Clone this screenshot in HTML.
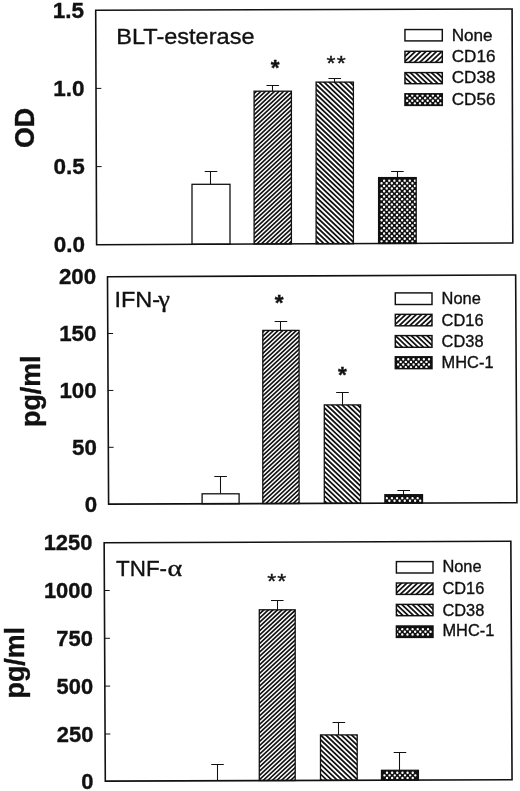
<!DOCTYPE html>
<html lang="en"><head><meta charset="utf-8"><title>Figure</title>
<style>
html,body{margin:0;padding:0;background:#fff;}
body{width:520px;height:791px;overflow:hidden;}
svg{display:block;}
text{font-family:"Liberation Sans",Arial,Helvetica,sans-serif;fill:#111;stroke:#111;stroke-width:0.35px;}
.tick{font-weight:bold;text-anchor:end;}
.yl{font-weight:bold;font-size:26.8px;text-anchor:middle;}
.sym{font-family:"Liberation Serif","DejaVu Serif",serif;}
</style></head><body>
<svg width="520" height="791" viewBox="0 0 520 791">
<rect width="520" height="791" fill="#fff"/>

<g>
<path d="M210.5 184.3V171.5M204.7 171.5H217.3" stroke="#111" stroke-width="1.05" fill="none"/>
<rect x="192" y="184.3" width="38" height="59.93" fill="#fff" stroke="#111" stroke-width="1.3"/>
<path d="M272.5 91.2V85.5M266.45 85.5H279.05" stroke="#111" stroke-width="1.05" fill="none"/>
<clipPath id="c1"><rect x="254.1" y="91.2" width="37.3" height="152.78"/></clipPath><rect x="254.1" y="91.2" width="37.3" height="152.78" fill="#fff"/><path clip-path="url(#c1)" d="M248.47 90.2L82.76 244.98M253.02 90.2L87.31 244.98M257.57 90.2L91.86 244.98M262.12 90.2L96.41 244.98M266.67 90.2L100.96 244.98M271.22 90.2L105.51 244.98M275.77 90.2L110.06 244.98M280.32 90.2L114.61 244.98M284.87 90.2L119.16 244.98M289.42 90.2L123.71 244.98M293.97 90.2L128.26 244.98M298.52 90.2L132.81 244.98M303.07 90.2L137.36 244.98M307.62 90.2L141.91 244.98M312.17 90.2L146.46 244.98M316.72 90.2L151.01 244.98M321.27 90.2L155.56 244.98M325.82 90.2L160.11 244.98M330.37 90.2L164.66 244.98M334.92 90.2L169.21 244.98M339.47 90.2L173.76 244.98M344.02 90.2L178.31 244.98M348.57 90.2L182.86 244.98M353.12 90.2L187.41 244.98M357.67 90.2L191.96 244.98M362.22 90.2L196.51 244.98M366.77 90.2L201.06 244.98M371.32 90.2L205.61 244.98M375.87 90.2L210.16 244.98M380.42 90.2L214.71 244.98M384.97 90.2L219.26 244.98M389.52 90.2L223.81 244.98M394.07 90.2L228.36 244.98M398.62 90.2L232.91 244.98M403.17 90.2L237.46 244.98M407.72 90.2L242.01 244.98M412.27 90.2L246.56 244.98M416.82 90.2L251.11 244.98M421.37 90.2L255.66 244.98M425.92 90.2L260.21 244.98M430.47 90.2L264.76 244.98M435.02 90.2L269.31 244.98M439.57 90.2L273.86 244.98M444.12 90.2L278.41 244.98M448.67 90.2L282.96 244.98M453.22 90.2L287.51 244.98M457.77 90.2L292.06 244.98M462.32 90.2L296.61 244.98" stroke="#111" stroke-width="1.65" fill="none"/><rect x="254.1" y="91.2" width="37.3" height="152.78" fill="none" stroke="#111" stroke-width="1.3"/>
<path d="M334.5 82.1V78.5M328.45 78.5H341.05" stroke="#111" stroke-width="1.05" fill="none"/>
<clipPath id="c2"><rect x="316.1" y="82.1" width="37.3" height="161.63"/></clipPath><rect x="316.1" y="82.1" width="37.3" height="161.63" fill="#fff"/><path clip-path="url(#c2)" d="M136.89 81.1L309.54 244.73M142.06 81.1L314.71 244.73M147.23 81.1L319.88 244.73M152.4 81.1L325.05 244.73M157.57 81.1L330.22 244.73M162.74 81.1L335.39 244.73M167.91 81.1L340.56 244.73M173.08 81.1L345.73 244.73M178.25 81.1L350.9 244.73M183.42 81.1L356.07 244.73M188.59 81.1L361.24 244.73M193.76 81.1L366.41 244.73M198.93 81.1L371.58 244.73M204.1 81.1L376.75 244.73M209.27 81.1L381.92 244.73M214.44 81.1L387.09 244.73M219.61 81.1L392.26 244.73M224.78 81.1L397.43 244.73M229.95 81.1L402.6 244.73M235.12 81.1L407.77 244.73M240.29 81.1L412.94 244.73M245.46 81.1L418.11 244.73M250.63 81.1L423.28 244.73M255.8 81.1L428.45 244.73M260.97 81.1L433.62 244.73M266.14 81.1L438.79 244.73M271.31 81.1L443.96 244.73M276.48 81.1L449.13 244.73M281.65 81.1L454.3 244.73M286.82 81.1L459.47 244.73M291.99 81.1L464.64 244.73M297.16 81.1L469.81 244.73M302.33 81.1L474.98 244.73M307.5 81.1L480.15 244.73M312.67 81.1L485.32 244.73M317.84 81.1L490.49 244.73M323.01 81.1L495.66 244.73M328.18 81.1L500.83 244.73M333.35 81.1L506 244.73M338.52 81.1L511.17 244.73M343.69 81.1L516.34 244.73M348.86 81.1L521.51 244.73M354.03 81.1L526.68 244.73M359.2 81.1L531.85 244.73" stroke="#111" stroke-width="1.8" fill="none"/><rect x="316.1" y="82.1" width="37.3" height="161.63" fill="none" stroke="#111" stroke-width="1.3"/>
<path d="M397.5 177.6V171.5M391.1 171.5H403.7" stroke="#111" stroke-width="1.05" fill="none"/>
<clipPath id="c3"><rect x="378.6" y="177.6" width="37.6" height="65.87"/></clipPath><rect x="378.6" y="177.6" width="37.6" height="65.87" fill="#111"/><path clip-path="url(#c3)" d="M382.9 180.65a1.2 1.2 0 1 0 2.4 0a1.2 1.2 0 1 0 -2.4 0zM388.05 180.65a1.2 1.2 0 1 0 2.4 0a1.2 1.2 0 1 0 -2.4 0zM393.2 180.65a1.2 1.2 0 1 0 2.4 0a1.2 1.2 0 1 0 -2.4 0zM398.35 180.65a1.2 1.2 0 1 0 2.4 0a1.2 1.2 0 1 0 -2.4 0zM403.5 180.65a1.2 1.2 0 1 0 2.4 0a1.2 1.2 0 1 0 -2.4 0zM408.65 180.65a1.2 1.2 0 1 0 2.4 0a1.2 1.2 0 1 0 -2.4 0zM413.8 180.65a1.2 1.2 0 1 0 2.4 0a1.2 1.2 0 1 0 -2.4 0zM380.33 183.29a1.2 1.2 0 1 0 2.4 0a1.2 1.2 0 1 0 -2.4 0zM385.48 183.29a1.2 1.2 0 1 0 2.4 0a1.2 1.2 0 1 0 -2.4 0zM390.62 183.29a1.2 1.2 0 1 0 2.4 0a1.2 1.2 0 1 0 -2.4 0zM395.78 183.29a1.2 1.2 0 1 0 2.4 0a1.2 1.2 0 1 0 -2.4 0zM400.93 183.29a1.2 1.2 0 1 0 2.4 0a1.2 1.2 0 1 0 -2.4 0zM406.08 183.29a1.2 1.2 0 1 0 2.4 0a1.2 1.2 0 1 0 -2.4 0zM411.23 183.29a1.2 1.2 0 1 0 2.4 0a1.2 1.2 0 1 0 -2.4 0zM382.9 185.93a1.2 1.2 0 1 0 2.4 0a1.2 1.2 0 1 0 -2.4 0zM388.05 185.93a1.2 1.2 0 1 0 2.4 0a1.2 1.2 0 1 0 -2.4 0zM393.2 185.93a1.2 1.2 0 1 0 2.4 0a1.2 1.2 0 1 0 -2.4 0zM398.35 185.93a1.2 1.2 0 1 0 2.4 0a1.2 1.2 0 1 0 -2.4 0zM403.5 185.93a1.2 1.2 0 1 0 2.4 0a1.2 1.2 0 1 0 -2.4 0zM408.65 185.93a1.2 1.2 0 1 0 2.4 0a1.2 1.2 0 1 0 -2.4 0zM413.8 185.93a1.2 1.2 0 1 0 2.4 0a1.2 1.2 0 1 0 -2.4 0zM380.33 188.57a1.2 1.2 0 1 0 2.4 0a1.2 1.2 0 1 0 -2.4 0zM385.48 188.57a1.2 1.2 0 1 0 2.4 0a1.2 1.2 0 1 0 -2.4 0zM390.62 188.57a1.2 1.2 0 1 0 2.4 0a1.2 1.2 0 1 0 -2.4 0zM395.78 188.57a1.2 1.2 0 1 0 2.4 0a1.2 1.2 0 1 0 -2.4 0zM400.93 188.57a1.2 1.2 0 1 0 2.4 0a1.2 1.2 0 1 0 -2.4 0zM406.08 188.57a1.2 1.2 0 1 0 2.4 0a1.2 1.2 0 1 0 -2.4 0zM411.23 188.57a1.2 1.2 0 1 0 2.4 0a1.2 1.2 0 1 0 -2.4 0zM382.9 191.21a1.2 1.2 0 1 0 2.4 0a1.2 1.2 0 1 0 -2.4 0zM388.05 191.21a1.2 1.2 0 1 0 2.4 0a1.2 1.2 0 1 0 -2.4 0zM393.2 191.21a1.2 1.2 0 1 0 2.4 0a1.2 1.2 0 1 0 -2.4 0zM398.35 191.21a1.2 1.2 0 1 0 2.4 0a1.2 1.2 0 1 0 -2.4 0zM403.5 191.21a1.2 1.2 0 1 0 2.4 0a1.2 1.2 0 1 0 -2.4 0zM408.65 191.21a1.2 1.2 0 1 0 2.4 0a1.2 1.2 0 1 0 -2.4 0zM413.8 191.21a1.2 1.2 0 1 0 2.4 0a1.2 1.2 0 1 0 -2.4 0zM380.33 193.85a1.2 1.2 0 1 0 2.4 0a1.2 1.2 0 1 0 -2.4 0zM385.48 193.85a1.2 1.2 0 1 0 2.4 0a1.2 1.2 0 1 0 -2.4 0zM390.62 193.85a1.2 1.2 0 1 0 2.4 0a1.2 1.2 0 1 0 -2.4 0zM395.78 193.85a1.2 1.2 0 1 0 2.4 0a1.2 1.2 0 1 0 -2.4 0zM400.93 193.85a1.2 1.2 0 1 0 2.4 0a1.2 1.2 0 1 0 -2.4 0zM406.08 193.85a1.2 1.2 0 1 0 2.4 0a1.2 1.2 0 1 0 -2.4 0zM411.23 193.85a1.2 1.2 0 1 0 2.4 0a1.2 1.2 0 1 0 -2.4 0zM382.9 196.49a1.2 1.2 0 1 0 2.4 0a1.2 1.2 0 1 0 -2.4 0zM388.05 196.49a1.2 1.2 0 1 0 2.4 0a1.2 1.2 0 1 0 -2.4 0zM393.2 196.49a1.2 1.2 0 1 0 2.4 0a1.2 1.2 0 1 0 -2.4 0zM398.35 196.49a1.2 1.2 0 1 0 2.4 0a1.2 1.2 0 1 0 -2.4 0zM403.5 196.49a1.2 1.2 0 1 0 2.4 0a1.2 1.2 0 1 0 -2.4 0zM408.65 196.49a1.2 1.2 0 1 0 2.4 0a1.2 1.2 0 1 0 -2.4 0zM413.8 196.49a1.2 1.2 0 1 0 2.4 0a1.2 1.2 0 1 0 -2.4 0zM380.33 199.13a1.2 1.2 0 1 0 2.4 0a1.2 1.2 0 1 0 -2.4 0zM385.48 199.13a1.2 1.2 0 1 0 2.4 0a1.2 1.2 0 1 0 -2.4 0zM390.62 199.13a1.2 1.2 0 1 0 2.4 0a1.2 1.2 0 1 0 -2.4 0zM395.78 199.13a1.2 1.2 0 1 0 2.4 0a1.2 1.2 0 1 0 -2.4 0zM400.93 199.13a1.2 1.2 0 1 0 2.4 0a1.2 1.2 0 1 0 -2.4 0zM406.08 199.13a1.2 1.2 0 1 0 2.4 0a1.2 1.2 0 1 0 -2.4 0zM411.23 199.13a1.2 1.2 0 1 0 2.4 0a1.2 1.2 0 1 0 -2.4 0zM382.9 201.77a1.2 1.2 0 1 0 2.4 0a1.2 1.2 0 1 0 -2.4 0zM388.05 201.77a1.2 1.2 0 1 0 2.4 0a1.2 1.2 0 1 0 -2.4 0zM393.2 201.77a1.2 1.2 0 1 0 2.4 0a1.2 1.2 0 1 0 -2.4 0zM398.35 201.77a1.2 1.2 0 1 0 2.4 0a1.2 1.2 0 1 0 -2.4 0zM403.5 201.77a1.2 1.2 0 1 0 2.4 0a1.2 1.2 0 1 0 -2.4 0zM408.65 201.77a1.2 1.2 0 1 0 2.4 0a1.2 1.2 0 1 0 -2.4 0zM413.8 201.77a1.2 1.2 0 1 0 2.4 0a1.2 1.2 0 1 0 -2.4 0zM380.33 204.41a1.2 1.2 0 1 0 2.4 0a1.2 1.2 0 1 0 -2.4 0zM385.48 204.41a1.2 1.2 0 1 0 2.4 0a1.2 1.2 0 1 0 -2.4 0zM390.62 204.41a1.2 1.2 0 1 0 2.4 0a1.2 1.2 0 1 0 -2.4 0zM395.78 204.41a1.2 1.2 0 1 0 2.4 0a1.2 1.2 0 1 0 -2.4 0zM400.93 204.41a1.2 1.2 0 1 0 2.4 0a1.2 1.2 0 1 0 -2.4 0zM406.08 204.41a1.2 1.2 0 1 0 2.4 0a1.2 1.2 0 1 0 -2.4 0zM411.23 204.41a1.2 1.2 0 1 0 2.4 0a1.2 1.2 0 1 0 -2.4 0zM382.9 207.05a1.2 1.2 0 1 0 2.4 0a1.2 1.2 0 1 0 -2.4 0zM388.05 207.05a1.2 1.2 0 1 0 2.4 0a1.2 1.2 0 1 0 -2.4 0zM393.2 207.05a1.2 1.2 0 1 0 2.4 0a1.2 1.2 0 1 0 -2.4 0zM398.35 207.05a1.2 1.2 0 1 0 2.4 0a1.2 1.2 0 1 0 -2.4 0zM403.5 207.05a1.2 1.2 0 1 0 2.4 0a1.2 1.2 0 1 0 -2.4 0zM408.65 207.05a1.2 1.2 0 1 0 2.4 0a1.2 1.2 0 1 0 -2.4 0zM413.8 207.05a1.2 1.2 0 1 0 2.4 0a1.2 1.2 0 1 0 -2.4 0zM380.33 209.69a1.2 1.2 0 1 0 2.4 0a1.2 1.2 0 1 0 -2.4 0zM385.48 209.69a1.2 1.2 0 1 0 2.4 0a1.2 1.2 0 1 0 -2.4 0zM390.62 209.69a1.2 1.2 0 1 0 2.4 0a1.2 1.2 0 1 0 -2.4 0zM395.78 209.69a1.2 1.2 0 1 0 2.4 0a1.2 1.2 0 1 0 -2.4 0zM400.93 209.69a1.2 1.2 0 1 0 2.4 0a1.2 1.2 0 1 0 -2.4 0zM406.08 209.69a1.2 1.2 0 1 0 2.4 0a1.2 1.2 0 1 0 -2.4 0zM411.23 209.69a1.2 1.2 0 1 0 2.4 0a1.2 1.2 0 1 0 -2.4 0zM382.9 212.33a1.2 1.2 0 1 0 2.4 0a1.2 1.2 0 1 0 -2.4 0zM388.05 212.33a1.2 1.2 0 1 0 2.4 0a1.2 1.2 0 1 0 -2.4 0zM393.2 212.33a1.2 1.2 0 1 0 2.4 0a1.2 1.2 0 1 0 -2.4 0zM398.35 212.33a1.2 1.2 0 1 0 2.4 0a1.2 1.2 0 1 0 -2.4 0zM403.5 212.33a1.2 1.2 0 1 0 2.4 0a1.2 1.2 0 1 0 -2.4 0zM408.65 212.33a1.2 1.2 0 1 0 2.4 0a1.2 1.2 0 1 0 -2.4 0zM413.8 212.33a1.2 1.2 0 1 0 2.4 0a1.2 1.2 0 1 0 -2.4 0zM380.33 214.97a1.2 1.2 0 1 0 2.4 0a1.2 1.2 0 1 0 -2.4 0zM385.48 214.97a1.2 1.2 0 1 0 2.4 0a1.2 1.2 0 1 0 -2.4 0zM390.62 214.97a1.2 1.2 0 1 0 2.4 0a1.2 1.2 0 1 0 -2.4 0zM395.78 214.97a1.2 1.2 0 1 0 2.4 0a1.2 1.2 0 1 0 -2.4 0zM400.93 214.97a1.2 1.2 0 1 0 2.4 0a1.2 1.2 0 1 0 -2.4 0zM406.08 214.97a1.2 1.2 0 1 0 2.4 0a1.2 1.2 0 1 0 -2.4 0zM411.23 214.97a1.2 1.2 0 1 0 2.4 0a1.2 1.2 0 1 0 -2.4 0zM382.9 217.61a1.2 1.2 0 1 0 2.4 0a1.2 1.2 0 1 0 -2.4 0zM388.05 217.61a1.2 1.2 0 1 0 2.4 0a1.2 1.2 0 1 0 -2.4 0zM393.2 217.61a1.2 1.2 0 1 0 2.4 0a1.2 1.2 0 1 0 -2.4 0zM398.35 217.61a1.2 1.2 0 1 0 2.4 0a1.2 1.2 0 1 0 -2.4 0zM403.5 217.61a1.2 1.2 0 1 0 2.4 0a1.2 1.2 0 1 0 -2.4 0zM408.65 217.61a1.2 1.2 0 1 0 2.4 0a1.2 1.2 0 1 0 -2.4 0zM413.8 217.61a1.2 1.2 0 1 0 2.4 0a1.2 1.2 0 1 0 -2.4 0zM380.33 220.25a1.2 1.2 0 1 0 2.4 0a1.2 1.2 0 1 0 -2.4 0zM385.48 220.25a1.2 1.2 0 1 0 2.4 0a1.2 1.2 0 1 0 -2.4 0zM390.62 220.25a1.2 1.2 0 1 0 2.4 0a1.2 1.2 0 1 0 -2.4 0zM395.78 220.25a1.2 1.2 0 1 0 2.4 0a1.2 1.2 0 1 0 -2.4 0zM400.93 220.25a1.2 1.2 0 1 0 2.4 0a1.2 1.2 0 1 0 -2.4 0zM406.08 220.25a1.2 1.2 0 1 0 2.4 0a1.2 1.2 0 1 0 -2.4 0zM411.23 220.25a1.2 1.2 0 1 0 2.4 0a1.2 1.2 0 1 0 -2.4 0zM382.9 222.89a1.2 1.2 0 1 0 2.4 0a1.2 1.2 0 1 0 -2.4 0zM388.05 222.89a1.2 1.2 0 1 0 2.4 0a1.2 1.2 0 1 0 -2.4 0zM393.2 222.89a1.2 1.2 0 1 0 2.4 0a1.2 1.2 0 1 0 -2.4 0zM398.35 222.89a1.2 1.2 0 1 0 2.4 0a1.2 1.2 0 1 0 -2.4 0zM403.5 222.89a1.2 1.2 0 1 0 2.4 0a1.2 1.2 0 1 0 -2.4 0zM408.65 222.89a1.2 1.2 0 1 0 2.4 0a1.2 1.2 0 1 0 -2.4 0zM413.8 222.89a1.2 1.2 0 1 0 2.4 0a1.2 1.2 0 1 0 -2.4 0zM380.33 225.53a1.2 1.2 0 1 0 2.4 0a1.2 1.2 0 1 0 -2.4 0zM385.48 225.53a1.2 1.2 0 1 0 2.4 0a1.2 1.2 0 1 0 -2.4 0zM390.62 225.53a1.2 1.2 0 1 0 2.4 0a1.2 1.2 0 1 0 -2.4 0zM395.78 225.53a1.2 1.2 0 1 0 2.4 0a1.2 1.2 0 1 0 -2.4 0zM400.93 225.53a1.2 1.2 0 1 0 2.4 0a1.2 1.2 0 1 0 -2.4 0zM406.08 225.53a1.2 1.2 0 1 0 2.4 0a1.2 1.2 0 1 0 -2.4 0zM411.23 225.53a1.2 1.2 0 1 0 2.4 0a1.2 1.2 0 1 0 -2.4 0zM382.9 228.17a1.2 1.2 0 1 0 2.4 0a1.2 1.2 0 1 0 -2.4 0zM388.05 228.17a1.2 1.2 0 1 0 2.4 0a1.2 1.2 0 1 0 -2.4 0zM393.2 228.17a1.2 1.2 0 1 0 2.4 0a1.2 1.2 0 1 0 -2.4 0zM398.35 228.17a1.2 1.2 0 1 0 2.4 0a1.2 1.2 0 1 0 -2.4 0zM403.5 228.17a1.2 1.2 0 1 0 2.4 0a1.2 1.2 0 1 0 -2.4 0zM408.65 228.17a1.2 1.2 0 1 0 2.4 0a1.2 1.2 0 1 0 -2.4 0zM413.8 228.17a1.2 1.2 0 1 0 2.4 0a1.2 1.2 0 1 0 -2.4 0zM380.33 230.81a1.2 1.2 0 1 0 2.4 0a1.2 1.2 0 1 0 -2.4 0zM385.48 230.81a1.2 1.2 0 1 0 2.4 0a1.2 1.2 0 1 0 -2.4 0zM390.62 230.81a1.2 1.2 0 1 0 2.4 0a1.2 1.2 0 1 0 -2.4 0zM395.78 230.81a1.2 1.2 0 1 0 2.4 0a1.2 1.2 0 1 0 -2.4 0zM400.93 230.81a1.2 1.2 0 1 0 2.4 0a1.2 1.2 0 1 0 -2.4 0zM406.08 230.81a1.2 1.2 0 1 0 2.4 0a1.2 1.2 0 1 0 -2.4 0zM411.23 230.81a1.2 1.2 0 1 0 2.4 0a1.2 1.2 0 1 0 -2.4 0zM382.9 233.45a1.2 1.2 0 1 0 2.4 0a1.2 1.2 0 1 0 -2.4 0zM388.05 233.45a1.2 1.2 0 1 0 2.4 0a1.2 1.2 0 1 0 -2.4 0zM393.2 233.45a1.2 1.2 0 1 0 2.4 0a1.2 1.2 0 1 0 -2.4 0zM398.35 233.45a1.2 1.2 0 1 0 2.4 0a1.2 1.2 0 1 0 -2.4 0zM403.5 233.45a1.2 1.2 0 1 0 2.4 0a1.2 1.2 0 1 0 -2.4 0zM408.65 233.45a1.2 1.2 0 1 0 2.4 0a1.2 1.2 0 1 0 -2.4 0zM413.8 233.45a1.2 1.2 0 1 0 2.4 0a1.2 1.2 0 1 0 -2.4 0zM380.33 236.09a1.2 1.2 0 1 0 2.4 0a1.2 1.2 0 1 0 -2.4 0zM385.48 236.09a1.2 1.2 0 1 0 2.4 0a1.2 1.2 0 1 0 -2.4 0zM390.62 236.09a1.2 1.2 0 1 0 2.4 0a1.2 1.2 0 1 0 -2.4 0zM395.78 236.09a1.2 1.2 0 1 0 2.4 0a1.2 1.2 0 1 0 -2.4 0zM400.93 236.09a1.2 1.2 0 1 0 2.4 0a1.2 1.2 0 1 0 -2.4 0zM406.08 236.09a1.2 1.2 0 1 0 2.4 0a1.2 1.2 0 1 0 -2.4 0zM411.23 236.09a1.2 1.2 0 1 0 2.4 0a1.2 1.2 0 1 0 -2.4 0zM382.9 238.73a1.2 1.2 0 1 0 2.4 0a1.2 1.2 0 1 0 -2.4 0zM388.05 238.73a1.2 1.2 0 1 0 2.4 0a1.2 1.2 0 1 0 -2.4 0zM393.2 238.73a1.2 1.2 0 1 0 2.4 0a1.2 1.2 0 1 0 -2.4 0zM398.35 238.73a1.2 1.2 0 1 0 2.4 0a1.2 1.2 0 1 0 -2.4 0zM403.5 238.73a1.2 1.2 0 1 0 2.4 0a1.2 1.2 0 1 0 -2.4 0zM408.65 238.73a1.2 1.2 0 1 0 2.4 0a1.2 1.2 0 1 0 -2.4 0zM413.8 238.73a1.2 1.2 0 1 0 2.4 0a1.2 1.2 0 1 0 -2.4 0zM380.33 241.37a1.2 1.2 0 1 0 2.4 0a1.2 1.2 0 1 0 -2.4 0zM385.48 241.37a1.2 1.2 0 1 0 2.4 0a1.2 1.2 0 1 0 -2.4 0zM390.62 241.37a1.2 1.2 0 1 0 2.4 0a1.2 1.2 0 1 0 -2.4 0zM395.78 241.37a1.2 1.2 0 1 0 2.4 0a1.2 1.2 0 1 0 -2.4 0zM400.93 241.37a1.2 1.2 0 1 0 2.4 0a1.2 1.2 0 1 0 -2.4 0zM406.08 241.37a1.2 1.2 0 1 0 2.4 0a1.2 1.2 0 1 0 -2.4 0zM411.23 241.37a1.2 1.2 0 1 0 2.4 0a1.2 1.2 0 1 0 -2.4 0z" fill="#fff"/><rect x="378.6" y="177.6" width="37.6" height="65.87" fill="none" stroke="#111" stroke-width="1.3"/>
<polygon points="95.7,10.2 512.1,9 512.8,243 96.6,244.7" fill="none" stroke="#111" stroke-width="1.6" stroke-linejoin="miter"/>
<path d="M96 88.4h5.3M96.3 166.6h5.3" stroke="#111" stroke-width="1.0" fill="none"/>
<text class="tick" x="84.15" y="17.5" font-size="22.5">1.5</text>
<text class="tick" x="84.45" y="95.7" font-size="22.5">1.0</text>
<text class="tick" x="84.75" y="173.9" font-size="22.5">0.5</text>
<text class="tick" x="85.05" y="252.1" font-size="22.5">0.0</text>
<text class="yl" transform="translate(34.4 127.9) rotate(-90)" x="0" y="0">OD</text>
<text transform="translate(116.3 44) scale(1.046 1)" font-size="22.5">BLT-esterase</text>
<text transform="translate(275.15 75.25) scale(1.0 1)" font-size="22.6" font-weight="bold" text-anchor="middle" stroke-width="0.5">*</text>
<text transform="translate(331.05 69.78) scale(1.1 1)" font-size="21" font-weight="normal" text-anchor="middle" stroke-width="0.5">*</text>
<text transform="translate(341.3 69.78) scale(1.1 1)" font-size="21" font-weight="normal" text-anchor="middle" stroke-width="0.5">*</text>
<rect x="404.95" y="29.55" width="37.35" height="11.35" fill="#fff" stroke="#111" stroke-width="1.45"/>
<text x="451.7" y="40.7" font-size="17.1">None</text>
<clipPath id="c4"><rect x="404.95" y="51.3" width="37.35" height="11.1"/></clipPath><rect x="404.95" y="51.3" width="37.35" height="11.1" fill="#fff"/><path clip-path="url(#c4)" d="M400.71 50.3L386.82 63.4M406.01 50.3L392.12 63.4M411.31 50.3L397.42 63.4M416.61 50.3L402.72 63.4M421.91 50.3L408.02 63.4M427.21 50.3L413.32 63.4M432.51 50.3L418.62 63.4M437.81 50.3L423.92 63.4M443.11 50.3L429.22 63.4M448.41 50.3L434.52 63.4M453.71 50.3L439.82 63.4M459.01 50.3L445.12 63.4M464.31 50.3L450.42 63.4" stroke="#111" stroke-width="1.75" fill="none"/><rect x="404.95" y="51.3" width="37.35" height="11.1" fill="none" stroke="#111" stroke-width="1.45"/>
<text x="451.7" y="62" font-size="17.1">CD16</text>
<clipPath id="c5"><rect x="404.95" y="72.6" width="37.35" height="11.1"/></clipPath><rect x="404.95" y="72.6" width="37.35" height="11.1" fill="#fff"/><path clip-path="url(#c5)" d="M382.69 71.6L396.58 84.7M387.99 71.6L401.88 84.7M393.29 71.6L407.18 84.7M398.59 71.6L412.48 84.7M403.89 71.6L417.78 84.7M409.19 71.6L423.08 84.7M414.49 71.6L428.38 84.7M419.79 71.6L433.68 84.7M425.09 71.6L438.98 84.7M430.39 71.6L444.28 84.7M435.69 71.6L449.58 84.7M440.99 71.6L454.88 84.7M446.29 71.6L460.18 84.7M451.59 71.6L465.48 84.7" stroke="#111" stroke-width="1.75" fill="none"/><rect x="404.95" y="72.6" width="37.35" height="11.1" fill="none" stroke="#111" stroke-width="1.45"/>
<text x="451.7" y="83.3" font-size="17.1">CD38</text>
<clipPath id="c6"><rect x="404.95" y="93.8" width="37.35" height="11.6"/></clipPath><rect x="404.95" y="93.8" width="37.35" height="11.6" fill="#111"/><path clip-path="url(#c6)" d="M405.9 95.5a1.2 1.2 0 1 0 2.4 0a1.2 1.2 0 1 0 -2.4 0zM411.05 95.5a1.2 1.2 0 1 0 2.4 0a1.2 1.2 0 1 0 -2.4 0zM416.2 95.5a1.2 1.2 0 1 0 2.4 0a1.2 1.2 0 1 0 -2.4 0zM421.35 95.5a1.2 1.2 0 1 0 2.4 0a1.2 1.2 0 1 0 -2.4 0zM426.5 95.5a1.2 1.2 0 1 0 2.4 0a1.2 1.2 0 1 0 -2.4 0zM431.65 95.5a1.2 1.2 0 1 0 2.4 0a1.2 1.2 0 1 0 -2.4 0zM436.8 95.5a1.2 1.2 0 1 0 2.4 0a1.2 1.2 0 1 0 -2.4 0zM408.48 98.14a1.2 1.2 0 1 0 2.4 0a1.2 1.2 0 1 0 -2.4 0zM413.62 98.14a1.2 1.2 0 1 0 2.4 0a1.2 1.2 0 1 0 -2.4 0zM418.78 98.14a1.2 1.2 0 1 0 2.4 0a1.2 1.2 0 1 0 -2.4 0zM423.93 98.14a1.2 1.2 0 1 0 2.4 0a1.2 1.2 0 1 0 -2.4 0zM429.08 98.14a1.2 1.2 0 1 0 2.4 0a1.2 1.2 0 1 0 -2.4 0zM434.23 98.14a1.2 1.2 0 1 0 2.4 0a1.2 1.2 0 1 0 -2.4 0zM439.38 98.14a1.2 1.2 0 1 0 2.4 0a1.2 1.2 0 1 0 -2.4 0zM405.9 100.78a1.2 1.2 0 1 0 2.4 0a1.2 1.2 0 1 0 -2.4 0zM411.05 100.78a1.2 1.2 0 1 0 2.4 0a1.2 1.2 0 1 0 -2.4 0zM416.2 100.78a1.2 1.2 0 1 0 2.4 0a1.2 1.2 0 1 0 -2.4 0zM421.35 100.78a1.2 1.2 0 1 0 2.4 0a1.2 1.2 0 1 0 -2.4 0zM426.5 100.78a1.2 1.2 0 1 0 2.4 0a1.2 1.2 0 1 0 -2.4 0zM431.65 100.78a1.2 1.2 0 1 0 2.4 0a1.2 1.2 0 1 0 -2.4 0zM436.8 100.78a1.2 1.2 0 1 0 2.4 0a1.2 1.2 0 1 0 -2.4 0zM408.48 103.42a1.2 1.2 0 1 0 2.4 0a1.2 1.2 0 1 0 -2.4 0zM413.62 103.42a1.2 1.2 0 1 0 2.4 0a1.2 1.2 0 1 0 -2.4 0zM418.78 103.42a1.2 1.2 0 1 0 2.4 0a1.2 1.2 0 1 0 -2.4 0zM423.93 103.42a1.2 1.2 0 1 0 2.4 0a1.2 1.2 0 1 0 -2.4 0zM429.08 103.42a1.2 1.2 0 1 0 2.4 0a1.2 1.2 0 1 0 -2.4 0zM434.23 103.42a1.2 1.2 0 1 0 2.4 0a1.2 1.2 0 1 0 -2.4 0zM439.38 103.42a1.2 1.2 0 1 0 2.4 0a1.2 1.2 0 1 0 -2.4 0z" fill="#fff"/><rect x="404.95" y="93.8" width="37.35" height="11.6" fill="none" stroke="#111" stroke-width="1.45"/>
<text x="451.7" y="105" font-size="17.1">CD56</text>
</g>
<g>
<path d="M220.5 493.8V476.5M214.3 476.5H226.9" stroke="#111" stroke-width="1.05" fill="none"/>
<rect x="202.1" y="493.8" width="37" height="9.92" fill="#fff" stroke="#111" stroke-width="1.3"/>
<path d="M280.5 330.4V321.5M274.65 321.5H287.25" stroke="#111" stroke-width="1.05" fill="none"/>
<clipPath id="c7"><rect x="262.8" y="330.4" width="36.3" height="173.11"/></clipPath><rect x="262.8" y="330.4" width="36.3" height="173.11" fill="#fff"/><path clip-path="url(#c7)" d="M256.57 329.4L69.1 504.51M261.12 329.4L73.65 504.51M265.67 329.4L78.2 504.51M270.22 329.4L82.75 504.51M274.77 329.4L87.3 504.51M279.32 329.4L91.85 504.51M283.87 329.4L96.4 504.51M288.42 329.4L100.95 504.51M292.97 329.4L105.5 504.51M297.52 329.4L110.05 504.51M302.07 329.4L114.6 504.51M306.62 329.4L119.15 504.51M311.17 329.4L123.7 504.51M315.72 329.4L128.25 504.51M320.27 329.4L132.8 504.51M324.82 329.4L137.35 504.51M329.37 329.4L141.9 504.51M333.92 329.4L146.45 504.51M338.47 329.4L151 504.51M343.02 329.4L155.55 504.51M347.57 329.4L160.1 504.51M352.12 329.4L164.65 504.51M356.67 329.4L169.2 504.51M361.22 329.4L173.75 504.51M365.77 329.4L178.3 504.51M370.32 329.4L182.85 504.51M374.87 329.4L187.4 504.51M379.42 329.4L191.95 504.51M383.97 329.4L196.5 504.51M388.52 329.4L201.05 504.51M393.07 329.4L205.6 504.51M397.62 329.4L210.15 504.51M402.17 329.4L214.7 504.51M406.72 329.4L219.25 504.51M411.27 329.4L223.8 504.51M415.82 329.4L228.35 504.51M420.37 329.4L232.9 504.51M424.92 329.4L237.45 504.51M429.47 329.4L242 504.51M434.02 329.4L246.55 504.51M438.57 329.4L251.1 504.51M443.12 329.4L255.65 504.51M447.67 329.4L260.2 504.51M452.22 329.4L264.75 504.51M456.77 329.4L269.3 504.51M461.32 329.4L273.85 504.51M465.87 329.4L278.4 504.51M470.42 329.4L282.95 504.51M474.97 329.4L287.5 504.51M479.52 329.4L292.05 504.51M484.07 329.4L296.6 504.51M488.62 329.4L301.15 504.51M493.17 329.4L305.7 504.51" stroke="#111" stroke-width="1.65" fill="none"/><rect x="262.8" y="330.4" width="36.3" height="173.11" fill="none" stroke="#111" stroke-width="1.3"/>
<path d="M342.5 404.9V392.5M336.15 392.5H348.75" stroke="#111" stroke-width="1.05" fill="none"/>
<clipPath id="c8"><rect x="324.3" y="404.9" width="36.3" height="98.4"/></clipPath><rect x="324.3" y="404.9" width="36.3" height="98.4" fill="#fff"/><path clip-path="url(#c8)" d="M211.7 403.9L317.64 504.3M216.87 403.9L322.81 504.3M222.04 403.9L327.98 504.3M227.21 403.9L333.15 504.3M232.38 403.9L338.32 504.3M237.55 403.9L343.49 504.3M242.72 403.9L348.66 504.3M247.89 403.9L353.83 504.3M253.06 403.9L359 504.3M258.23 403.9L364.17 504.3M263.4 403.9L369.34 504.3M268.57 403.9L374.51 504.3M273.74 403.9L379.68 504.3M278.91 403.9L384.85 504.3M284.08 403.9L390.02 504.3M289.25 403.9L395.19 504.3M294.42 403.9L400.36 504.3M299.59 403.9L405.53 504.3M304.76 403.9L410.7 504.3M309.93 403.9L415.87 504.3M315.1 403.9L421.04 504.3M320.27 403.9L426.21 504.3M325.44 403.9L431.38 504.3M330.61 403.9L436.55 504.3M335.78 403.9L441.72 504.3M340.95 403.9L446.89 504.3M346.12 403.9L452.06 504.3M351.29 403.9L457.23 504.3M356.46 403.9L462.4 504.3M361.63 403.9L467.57 504.3M366.8 403.9L472.74 504.3" stroke="#111" stroke-width="1.8" fill="none"/><rect x="324.3" y="404.9" width="36.3" height="98.4" fill="none" stroke="#111" stroke-width="1.3"/>
<path d="M403.5 494.7V490.5M397.4 490.5H410" stroke="#111" stroke-width="1.05" fill="none"/>
<clipPath id="c9"><rect x="384.9" y="494.7" width="37.6" height="8.39"/></clipPath><rect x="384.9" y="494.7" width="37.6" height="8.39" fill="#111"/><path clip-path="url(#c9)" d="M385.58 498.16a1.2 1.2 0 1 0 2.4 0a1.2 1.2 0 1 0 -2.4 0zM390.73 498.16a1.2 1.2 0 1 0 2.4 0a1.2 1.2 0 1 0 -2.4 0zM395.88 498.16a1.2 1.2 0 1 0 2.4 0a1.2 1.2 0 1 0 -2.4 0zM401.03 498.16a1.2 1.2 0 1 0 2.4 0a1.2 1.2 0 1 0 -2.4 0zM406.18 498.16a1.2 1.2 0 1 0 2.4 0a1.2 1.2 0 1 0 -2.4 0zM411.33 498.16a1.2 1.2 0 1 0 2.4 0a1.2 1.2 0 1 0 -2.4 0zM416.48 498.16a1.2 1.2 0 1 0 2.4 0a1.2 1.2 0 1 0 -2.4 0zM388.15 500.8a1.2 1.2 0 1 0 2.4 0a1.2 1.2 0 1 0 -2.4 0zM393.3 500.8a1.2 1.2 0 1 0 2.4 0a1.2 1.2 0 1 0 -2.4 0zM398.45 500.8a1.2 1.2 0 1 0 2.4 0a1.2 1.2 0 1 0 -2.4 0zM403.6 500.8a1.2 1.2 0 1 0 2.4 0a1.2 1.2 0 1 0 -2.4 0zM408.75 500.8a1.2 1.2 0 1 0 2.4 0a1.2 1.2 0 1 0 -2.4 0zM413.9 500.8a1.2 1.2 0 1 0 2.4 0a1.2 1.2 0 1 0 -2.4 0zM419.05 500.8a1.2 1.2 0 1 0 2.4 0a1.2 1.2 0 1 0 -2.4 0z" fill="#fff"/><rect x="384.9" y="494.7" width="37.6" height="8.39" fill="none" stroke="#111" stroke-width="1.3"/>
<polygon points="107.5,276.8 515.65,275 516.9,502.7 108.6,504.1" fill="none" stroke="#111" stroke-width="1.6" stroke-linejoin="miter"/>
<path d="M107.77 333.5h5.3M108.05 390.45h5.3M108.33 447.3h5.3" stroke="#111" stroke-width="1.0" fill="none"/>
<text class="tick" x="96.1" y="283.7" font-size="22.3">200</text>
<text class="tick" x="96.37" y="340.86" font-size="22.3">150</text>
<text class="tick" x="96.65" y="398" font-size="22.3">100</text>
<text class="tick" x="96.93" y="455.2" font-size="22.3">50</text>
<text class="tick" x="97.2" y="512.3" font-size="22.3">0</text>
<text class="yl" transform="translate(39.9 391.25) rotate(-90)" x="0" y="0">pg/ml</text>
<text transform="translate(114.4 307) scale(1.04 1)" font-size="22.6">IFN-</text>
<text class="sym" transform="translate(158.2 307) scale(1.1 1)" font-size="24">γ</text>
<text transform="translate(279.05 309.75) scale(1.0 1)" font-size="22.6" font-weight="bold" text-anchor="middle" stroke-width="0.5">*</text>
<text transform="translate(342.3 382.1) scale(1.0 1)" font-size="22.6" font-weight="bold" text-anchor="middle" stroke-width="0.5">*</text>
<rect x="395.3" y="292.9" width="36.7" height="11.6" fill="#fff" stroke="#111" stroke-width="1.45"/>
<text x="441.6" y="303.8" font-size="16.4">None</text>
<clipPath id="c10"><rect x="395.3" y="314.35" width="36.7" height="11.45"/></clipPath><rect x="395.3" y="314.35" width="36.7" height="11.45" fill="#fff"/><path clip-path="url(#c10)" d="M391.06 313.35L376.8 326.8M396.36 313.35L382.1 326.8M401.66 313.35L387.4 326.8M406.96 313.35L392.7 326.8M412.26 313.35L398 326.8M417.56 313.35L403.3 326.8M422.86 313.35L408.6 326.8M428.16 313.35L413.9 326.8M433.46 313.35L419.2 326.8M438.76 313.35L424.5 326.8M444.06 313.35L429.8 326.8M449.36 313.35L435.1 326.8M454.66 313.35L440.4 326.8" stroke="#111" stroke-width="1.75" fill="none"/><rect x="395.3" y="314.35" width="36.7" height="11.45" fill="none" stroke="#111" stroke-width="1.45"/>
<text x="441.6" y="325.6" font-size="16.4">CD16</text>
<clipPath id="c11"><rect x="395.3" y="335.6" width="36.7" height="11.7"/></clipPath><rect x="395.3" y="335.6" width="36.7" height="11.7" fill="#fff"/><path clip-path="url(#c11)" d="M373.04 334.6L387.56 348.3M378.34 334.6L392.86 348.3M383.64 334.6L398.16 348.3M388.94 334.6L403.46 348.3M394.24 334.6L408.76 348.3M399.54 334.6L414.06 348.3M404.84 334.6L419.36 348.3M410.14 334.6L424.66 348.3M415.44 334.6L429.96 348.3M420.74 334.6L435.26 348.3M426.04 334.6L440.56 348.3M431.34 334.6L445.86 348.3M436.64 334.6L451.16 348.3" stroke="#111" stroke-width="1.75" fill="none"/><rect x="395.3" y="335.6" width="36.7" height="11.7" fill="none" stroke="#111" stroke-width="1.45"/>
<text x="441.6" y="347.1" font-size="16.4">CD38</text>
<clipPath id="c12"><rect x="395.3" y="356.8" width="36.7" height="11.85"/></clipPath><rect x="395.3" y="356.8" width="36.7" height="11.85" fill="#111"/><path clip-path="url(#c12)" d="M396.9 359.25a1.2 1.2 0 1 0 2.4 0a1.2 1.2 0 1 0 -2.4 0zM402.05 359.25a1.2 1.2 0 1 0 2.4 0a1.2 1.2 0 1 0 -2.4 0zM407.2 359.25a1.2 1.2 0 1 0 2.4 0a1.2 1.2 0 1 0 -2.4 0zM412.35 359.25a1.2 1.2 0 1 0 2.4 0a1.2 1.2 0 1 0 -2.4 0zM417.5 359.25a1.2 1.2 0 1 0 2.4 0a1.2 1.2 0 1 0 -2.4 0zM422.65 359.25a1.2 1.2 0 1 0 2.4 0a1.2 1.2 0 1 0 -2.4 0zM427.8 359.25a1.2 1.2 0 1 0 2.4 0a1.2 1.2 0 1 0 -2.4 0zM399.48 361.89a1.2 1.2 0 1 0 2.4 0a1.2 1.2 0 1 0 -2.4 0zM404.62 361.89a1.2 1.2 0 1 0 2.4 0a1.2 1.2 0 1 0 -2.4 0zM409.78 361.89a1.2 1.2 0 1 0 2.4 0a1.2 1.2 0 1 0 -2.4 0zM414.93 361.89a1.2 1.2 0 1 0 2.4 0a1.2 1.2 0 1 0 -2.4 0zM420.08 361.89a1.2 1.2 0 1 0 2.4 0a1.2 1.2 0 1 0 -2.4 0zM425.23 361.89a1.2 1.2 0 1 0 2.4 0a1.2 1.2 0 1 0 -2.4 0zM396.9 364.53a1.2 1.2 0 1 0 2.4 0a1.2 1.2 0 1 0 -2.4 0zM402.05 364.53a1.2 1.2 0 1 0 2.4 0a1.2 1.2 0 1 0 -2.4 0zM407.2 364.53a1.2 1.2 0 1 0 2.4 0a1.2 1.2 0 1 0 -2.4 0zM412.35 364.53a1.2 1.2 0 1 0 2.4 0a1.2 1.2 0 1 0 -2.4 0zM417.5 364.53a1.2 1.2 0 1 0 2.4 0a1.2 1.2 0 1 0 -2.4 0zM422.65 364.53a1.2 1.2 0 1 0 2.4 0a1.2 1.2 0 1 0 -2.4 0zM427.8 364.53a1.2 1.2 0 1 0 2.4 0a1.2 1.2 0 1 0 -2.4 0zM399.48 367.17a1.2 1.2 0 1 0 2.4 0a1.2 1.2 0 1 0 -2.4 0zM404.62 367.17a1.2 1.2 0 1 0 2.4 0a1.2 1.2 0 1 0 -2.4 0zM409.78 367.17a1.2 1.2 0 1 0 2.4 0a1.2 1.2 0 1 0 -2.4 0zM414.93 367.17a1.2 1.2 0 1 0 2.4 0a1.2 1.2 0 1 0 -2.4 0zM420.08 367.17a1.2 1.2 0 1 0 2.4 0a1.2 1.2 0 1 0 -2.4 0zM425.23 367.17a1.2 1.2 0 1 0 2.4 0a1.2 1.2 0 1 0 -2.4 0z" fill="#fff"/><rect x="395.3" y="356.8" width="36.7" height="11.85" fill="none" stroke="#111" stroke-width="1.45"/>
<text x="441.6" y="367.9" font-size="16.4">MHC-1</text>
</g>
<g>
<path d="M217.5 780.3V764.5M211.2 764.5H223.8" stroke="#111" stroke-width="1.05" fill="none"/>
<path d="M277.5 609.8V600.5M270.95 600.5H283.55" stroke="#111" stroke-width="1.05" fill="none"/>
<clipPath id="c13"><rect x="259.3" y="609.8" width="35.9" height="170.71"/></clipPath><rect x="259.3" y="609.8" width="35.9" height="170.71" fill="#fff"/><path clip-path="url(#c13)" d="M255.82 608.8L70.92 781.51M260.37 608.8L75.47 781.51M264.92 608.8L80.02 781.51M269.47 608.8L84.57 781.51M274.02 608.8L89.12 781.51M278.57 608.8L93.67 781.51M283.12 608.8L98.22 781.51M287.67 608.8L102.77 781.51M292.22 608.8L107.32 781.51M296.77 608.8L111.87 781.51M301.32 608.8L116.42 781.51M305.87 608.8L120.97 781.51M310.42 608.8L125.52 781.51M314.97 608.8L130.07 781.51M319.52 608.8L134.62 781.51M324.07 608.8L139.17 781.51M328.62 608.8L143.72 781.51M333.17 608.8L148.27 781.51M337.72 608.8L152.82 781.51M342.27 608.8L157.37 781.51M346.82 608.8L161.92 781.51M351.37 608.8L166.47 781.51M355.92 608.8L171.02 781.51M360.47 608.8L175.57 781.51M365.02 608.8L180.12 781.51M369.57 608.8L184.67 781.51M374.12 608.8L189.22 781.51M378.67 608.8L193.77 781.51M383.22 608.8L198.32 781.51M387.77 608.8L202.87 781.51M392.32 608.8L207.42 781.51M396.87 608.8L211.97 781.51M401.42 608.8L216.52 781.51M405.97 608.8L221.07 781.51M410.52 608.8L225.62 781.51M415.07 608.8L230.17 781.51M419.62 608.8L234.72 781.51M424.17 608.8L239.27 781.51M428.72 608.8L243.82 781.51M433.27 608.8L248.37 781.51M437.82 608.8L252.92 781.51M442.37 608.8L257.47 781.51M446.92 608.8L262.02 781.51M451.47 608.8L266.57 781.51M456.02 608.8L271.12 781.51M460.57 608.8L275.67 781.51M465.12 608.8L280.22 781.51M469.67 608.8L284.77 781.51M474.22 608.8L289.32 781.51M478.77 608.8L293.87 781.51M483.32 608.8L298.42 781.51M487.87 608.8L302.97 781.51" stroke="#111" stroke-width="1.65" fill="none"/><rect x="259.3" y="609.8" width="35.9" height="170.71" fill="none" stroke="#111" stroke-width="1.3"/>
<path d="M338.5 734.9V722.5M332.55 722.5H345.15" stroke="#111" stroke-width="1.05" fill="none"/>
<clipPath id="c14"><rect x="320.5" y="734.9" width="36.7" height="45.4"/></clipPath><rect x="320.5" y="734.9" width="36.7" height="45.4" fill="#fff"/><path clip-path="url(#c14)" d="M262.57 733.9L312.58 781.3M267.74 733.9L317.75 781.3M272.91 733.9L322.92 781.3M278.08 733.9L328.09 781.3M283.25 733.9L333.26 781.3M288.42 733.9L338.43 781.3M293.59 733.9L343.6 781.3M298.76 733.9L348.77 781.3M303.93 733.9L353.94 781.3M309.1 733.9L359.11 781.3M314.27 733.9L364.28 781.3M319.44 733.9L369.45 781.3M324.61 733.9L374.62 781.3M329.78 733.9L379.79 781.3M334.95 733.9L384.96 781.3M340.12 733.9L390.13 781.3M345.29 733.9L395.3 781.3M350.46 733.9L400.47 781.3M355.63 733.9L405.64 781.3M360.8 733.9L410.81 781.3M365.97 733.9L415.98 781.3" stroke="#111" stroke-width="1.8" fill="none"/><rect x="320.5" y="734.9" width="36.7" height="45.4" fill="none" stroke="#111" stroke-width="1.3"/>
<path d="M399.5 770.3V752.5M393.65 752.5H406.25" stroke="#111" stroke-width="1.05" fill="none"/>
<clipPath id="c15"><rect x="381.5" y="770.3" width="36.9" height="9.79"/></clipPath><rect x="381.5" y="770.3" width="36.9" height="9.79" fill="#111"/><path clip-path="url(#c15)" d="M385.8 772.7a1.2 1.2 0 1 0 2.4 0a1.2 1.2 0 1 0 -2.4 0zM390.95 772.7a1.2 1.2 0 1 0 2.4 0a1.2 1.2 0 1 0 -2.4 0zM396.1 772.7a1.2 1.2 0 1 0 2.4 0a1.2 1.2 0 1 0 -2.4 0zM401.25 772.7a1.2 1.2 0 1 0 2.4 0a1.2 1.2 0 1 0 -2.4 0zM406.4 772.7a1.2 1.2 0 1 0 2.4 0a1.2 1.2 0 1 0 -2.4 0zM411.55 772.7a1.2 1.2 0 1 0 2.4 0a1.2 1.2 0 1 0 -2.4 0zM383.23 775.34a1.2 1.2 0 1 0 2.4 0a1.2 1.2 0 1 0 -2.4 0zM388.38 775.34a1.2 1.2 0 1 0 2.4 0a1.2 1.2 0 1 0 -2.4 0zM393.52 775.34a1.2 1.2 0 1 0 2.4 0a1.2 1.2 0 1 0 -2.4 0zM398.68 775.34a1.2 1.2 0 1 0 2.4 0a1.2 1.2 0 1 0 -2.4 0zM403.82 775.34a1.2 1.2 0 1 0 2.4 0a1.2 1.2 0 1 0 -2.4 0zM408.98 775.34a1.2 1.2 0 1 0 2.4 0a1.2 1.2 0 1 0 -2.4 0zM414.12 775.34a1.2 1.2 0 1 0 2.4 0a1.2 1.2 0 1 0 -2.4 0zM385.8 777.98a1.2 1.2 0 1 0 2.4 0a1.2 1.2 0 1 0 -2.4 0zM390.95 777.98a1.2 1.2 0 1 0 2.4 0a1.2 1.2 0 1 0 -2.4 0zM396.1 777.98a1.2 1.2 0 1 0 2.4 0a1.2 1.2 0 1 0 -2.4 0zM401.25 777.98a1.2 1.2 0 1 0 2.4 0a1.2 1.2 0 1 0 -2.4 0zM406.4 777.98a1.2 1.2 0 1 0 2.4 0a1.2 1.2 0 1 0 -2.4 0zM411.55 777.98a1.2 1.2 0 1 0 2.4 0a1.2 1.2 0 1 0 -2.4 0z" fill="#fff"/><rect x="381.5" y="770.3" width="36.9" height="9.79" fill="none" stroke="#111" stroke-width="1.3"/>
<polygon points="104.15,542.8 510.85,541.25 512.05,779.7 105.3,781.1" fill="none" stroke="#111" stroke-width="1.6" stroke-linejoin="miter"/>
<path d="M104.38 590.5h5.3M104.61 638.3h5.3M104.84 686.1h5.3M105.07 734h5.3" stroke="#111" stroke-width="1.0" fill="none"/>
<text class="tick" x="92.4" y="550.2" font-size="21.9">1250</text>
<text class="tick" x="92.63" y="598.05" font-size="21.9">1000</text>
<text class="tick" x="92.86" y="645.9" font-size="21.9">750</text>
<text class="tick" x="93.09" y="693.75" font-size="21.9">500</text>
<text class="tick" x="93.32" y="741.6" font-size="21.9">250</text>
<text class="tick" x="93.55" y="789.45" font-size="21.9">0</text>
<text class="yl" transform="translate(24.1 662.75) rotate(-90)" x="0" y="0">pg/ml</text>
<text transform="translate(116.1 576.2) scale(1 1)" font-size="22.4">TNF-</text>
<text class="sym" transform="translate(167.5 576.2) scale(1.22 1)" font-size="23">α</text>
<text transform="translate(271.7 588.27) scale(1.1 1)" font-size="21" font-weight="normal" text-anchor="middle" stroke-width="0.5">*</text>
<text transform="translate(281.85 588.27) scale(1.1 1)" font-size="21" font-weight="normal" text-anchor="middle" stroke-width="0.5">*</text>
<rect x="396.4" y="561.6" width="36.6" height="11.4" fill="#fff" stroke="#111" stroke-width="1.45"/>
<text x="442.4" y="572.1" font-size="16.4">None</text>
<clipPath id="c16"><rect x="396.4" y="583" width="36.6" height="11.4"/></clipPath><rect x="396.4" y="583" width="36.6" height="11.4" fill="#fff"/><path clip-path="url(#c16)" d="M392.16 582L377.96 595.4M397.46 582L383.26 595.4M402.76 582L388.56 595.4M408.06 582L393.86 595.4M413.36 582L399.16 595.4M418.66 582L404.46 595.4M423.96 582L409.76 595.4M429.26 582L415.06 595.4M434.56 582L420.36 595.4M439.86 582L425.66 595.4M445.16 582L430.96 595.4M450.46 582L436.26 595.4M455.76 582L441.56 595.4" stroke="#111" stroke-width="1.75" fill="none"/><rect x="396.4" y="583" width="36.6" height="11.4" fill="none" stroke="#111" stroke-width="1.45"/>
<text x="442.4" y="594.4" font-size="16.4">CD16</text>
<clipPath id="c17"><rect x="396.4" y="604.4" width="36.6" height="11.3"/></clipPath><rect x="396.4" y="604.4" width="36.6" height="11.3" fill="#fff"/><path clip-path="url(#c17)" d="M374.14 603.4L388.24 616.7M379.44 603.4L393.54 616.7M384.74 603.4L398.84 616.7M390.04 603.4L404.14 616.7M395.34 603.4L409.44 616.7M400.64 603.4L414.74 616.7M405.94 603.4L420.04 616.7M411.24 603.4L425.34 616.7M416.54 603.4L430.64 616.7M421.84 603.4L435.94 616.7M427.14 603.4L441.24 616.7M432.44 603.4L446.54 616.7M437.74 603.4L451.84 616.7" stroke="#111" stroke-width="1.75" fill="none"/><rect x="396.4" y="604.4" width="36.6" height="11.3" fill="none" stroke="#111" stroke-width="1.45"/>
<text x="442.4" y="615.6" font-size="16.4">CD38</text>
<clipPath id="c18"><rect x="396.4" y="626" width="36.6" height="11.4"/></clipPath><rect x="396.4" y="626" width="36.6" height="11.4" fill="#111"/><path clip-path="url(#c18)" d="M395.93 629.16a1.2 1.2 0 1 0 2.4 0a1.2 1.2 0 1 0 -2.4 0zM401.07 629.16a1.2 1.2 0 1 0 2.4 0a1.2 1.2 0 1 0 -2.4 0zM406.22 629.16a1.2 1.2 0 1 0 2.4 0a1.2 1.2 0 1 0 -2.4 0zM411.38 629.16a1.2 1.2 0 1 0 2.4 0a1.2 1.2 0 1 0 -2.4 0zM416.52 629.16a1.2 1.2 0 1 0 2.4 0a1.2 1.2 0 1 0 -2.4 0zM421.68 629.16a1.2 1.2 0 1 0 2.4 0a1.2 1.2 0 1 0 -2.4 0zM426.82 629.16a1.2 1.2 0 1 0 2.4 0a1.2 1.2 0 1 0 -2.4 0zM398.5 631.8a1.2 1.2 0 1 0 2.4 0a1.2 1.2 0 1 0 -2.4 0zM403.65 631.8a1.2 1.2 0 1 0 2.4 0a1.2 1.2 0 1 0 -2.4 0zM408.8 631.8a1.2 1.2 0 1 0 2.4 0a1.2 1.2 0 1 0 -2.4 0zM413.95 631.8a1.2 1.2 0 1 0 2.4 0a1.2 1.2 0 1 0 -2.4 0zM419.1 631.8a1.2 1.2 0 1 0 2.4 0a1.2 1.2 0 1 0 -2.4 0zM424.25 631.8a1.2 1.2 0 1 0 2.4 0a1.2 1.2 0 1 0 -2.4 0zM429.4 631.8a1.2 1.2 0 1 0 2.4 0a1.2 1.2 0 1 0 -2.4 0zM395.93 634.44a1.2 1.2 0 1 0 2.4 0a1.2 1.2 0 1 0 -2.4 0zM401.07 634.44a1.2 1.2 0 1 0 2.4 0a1.2 1.2 0 1 0 -2.4 0zM406.22 634.44a1.2 1.2 0 1 0 2.4 0a1.2 1.2 0 1 0 -2.4 0zM411.38 634.44a1.2 1.2 0 1 0 2.4 0a1.2 1.2 0 1 0 -2.4 0zM416.52 634.44a1.2 1.2 0 1 0 2.4 0a1.2 1.2 0 1 0 -2.4 0zM421.68 634.44a1.2 1.2 0 1 0 2.4 0a1.2 1.2 0 1 0 -2.4 0zM426.82 634.44a1.2 1.2 0 1 0 2.4 0a1.2 1.2 0 1 0 -2.4 0z" fill="#fff"/><rect x="396.4" y="626" width="36.6" height="11.4" fill="none" stroke="#111" stroke-width="1.45"/>
<text x="442.4" y="636" font-size="16.4">MHC-1</text>
</g>
</svg></body></html>
